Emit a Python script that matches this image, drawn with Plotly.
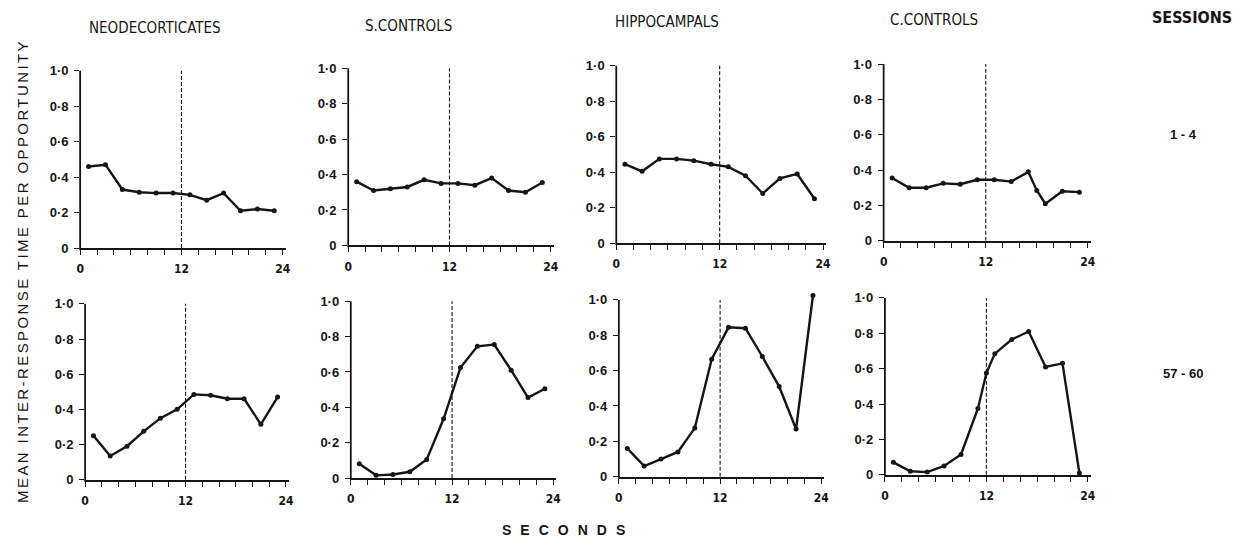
import plotly.graph_objects as go

# ---------------- data ----------------
groups = ["NEODECORTICATES", "S.CONTROLS", "HIPPOCAMPALS", "C.CONTROLS"]
sessions = ["1 - 4", "57 - 60"]

x_ticks = list(range(0, 25, 2))
x_tick_labels = ["0" if v == 0 else "12" if v == 12 else "24" if v == 24 else "" for v in x_ticks]
y_ticks = [0, 0.2, 0.4, 0.6, 0.8, 1.0]
y_tick_labels = ["0", "0·2", "0·4", "0·6", "0·8", "1·0"]

x_std = [1, 3, 5, 7, 9, 11, 13, 15, 17, 19, 21, 23]

# Sessions 1-4
neo_1_4 = [0.46, 0.47, 0.33, 0.315, 0.31, 0.31, 0.30, 0.27, 0.31, 0.21, 0.22, 0.21]
sctrl_1_4 = [0.36, 0.31, 0.32, 0.33, 0.37, 0.35, 0.35, 0.34, 0.38, 0.31, 0.30, 0.355]
hippo_1_4 = [0.445, 0.405, 0.475, 0.475, 0.465, 0.445, 0.43, 0.38, 0.28, 0.365, 0.39, 0.25]
cctrl_1_4_x = [1, 3, 5, 7, 9, 11, 13, 15, 17, 18, 19, 21, 23]
cctrl_1_4 = [0.355, 0.30, 0.30, 0.325, 0.32, 0.345, 0.345, 0.335, 0.39, 0.285, 0.21, 0.28, 0.275]

# Sessions 57-60
neo_57_60 = [0.25, 0.135, 0.19, 0.275, 0.35, 0.40, 0.485, 0.48, 0.46, 0.46, 0.315, 0.47]
sctrl_57_60 = [0.08, 0.015, 0.02, 0.035, 0.105, 0.335, 0.625, 0.745, 0.755, 0.61, 0.455, 0.505]
hippo_57_60 = [0.16, 0.06, 0.10, 0.14, 0.275, 0.665, 0.845, 0.84, 0.68, 0.51, 0.27, 1.025]
cctrl_57_60_x = [1, 3, 5, 7, 9, 11, 12, 13, 15, 17, 19, 21, 23]
cctrl_57_60 = [0.07, 0.02, 0.015, 0.05, 0.115, 0.375, 0.575, 0.685, 0.765, 0.81, 0.61, 0.63, 0.01]

series = [
    (x_std, neo_1_4), (x_std, sctrl_1_4), (x_std, hippo_1_4), (cctrl_1_4_x, cctrl_1_4),
    (x_std, neo_57_60), (x_std, sctrl_57_60), (x_std, hippo_57_60), (cctrl_57_60_x, cctrl_57_60),
]

# ---------------- layout geometry (pixels) ----------------
W, H = 1252, 554
X_MAX = 24.35
Y_MAX = 1.05
# (pixel of x=0, pixel of x=24, pixel of y=0, pixel of y=1.0)
panels_px = [
    (76.7, 280.7, 251.7, 71.7),
    (346.7, 550.7, 249.0, 69.3),
    (616.7, 825.0, 246.7, 66.7),
    (886.0, 1091.7, 244.3, 65.0),
    (81.7, 284.0, 486.7, 308.3),
    (349.3, 553.3, 485.0, 305.7),
    (619.3, 823.3, 483.7, 304.3),
    (887.3, 1091.7, 481.7, 302.3),
]

INK = "#151515"
FONT = "Liberation Sans"
COND = "DejaVu Sans Condensed, DejaVu Sans, sans-serif"

fig = go.Figure()
layout = dict(
    width=W, height=H, margin=dict(l=0, r=0, t=0, b=0),
    paper_bgcolor="white", plot_bgcolor="white", showlegend=False,
    font=dict(family=FONT, color=INK),
)
shapes = []
annotations = []

for i, ((xs, ys), (x0p, x24p, y0p, y1p)) in enumerate(zip(series, panels_px), start=1):
    sx = (x24p - x0p) / 24.0
    sy = (y0p - y1p) / 1.0
    xd = [x0p / W, (x0p + X_MAX * sx) / W]
    yd = [1 - y0p / H, 1 - (y0p - Y_MAX * sy) / H]
    suffix = "" if i == 1 else str(i)
    layout["xaxis" + suffix] = dict(
        domain=xd, range=[0, X_MAX], anchor="y" + suffix,
        tickmode="array", tickvals=x_ticks, ticktext=["<b>%s</b>" % t if t else "" for t in x_tick_labels],
        ticks="outside", ticklen=5, tickwidth=1.4, tickcolor=INK,
        showline=True, linewidth=1.8, linecolor=INK,
        showgrid=False, zeroline=False, fixedrange=True,
        tickfont=dict(family=COND, size=12, color=INK), ticklabelstandoff=4,
    )
    layout["yaxis" + suffix] = dict(
        domain=yd, range=[0, Y_MAX], anchor="x" + suffix,
        tickmode="array", tickvals=y_ticks, ticktext=["<b>%s</b>" % t for t in y_tick_labels],
        ticks="outside", ticklen=5, tickwidth=1.4, tickcolor=INK,
        showline=False, showgrid=False, zeroline=False, fixedrange=True,
        tickfont=dict(family=FONT, size=13, color=INK), ticklabelstandoff=3,
    )
    # y axis line from 0 to 1.0 (paper coordinates)
    shapes.append(dict(type="line", xref="paper", yref="paper",
                       x0=x0p / W, x1=x0p / W, y0=1 - (y0p + 2) / H, y1=1 - y1p / H,
                       line=dict(color=INK, width=1.8)))
    # dashed reference line at 12 s
    shapes.append(dict(type="line", xref="x" + suffix, yref="y" + suffix,
                       x0=12, x1=12, y0=0, y1=1.0,
                       line=dict(color=INK, width=1.1, dash="4px,2px")))
    fig.add_trace(go.Scatter(
        x=xs, y=ys, xaxis="x" + suffix, yaxis="y" + suffix,
        mode="lines+markers", cliponaxis=False,
        line=dict(color=INK, width=2.4), marker=dict(color=INK, size=5),
        hoverinfo="skip",
    ))

# column titles
title_pos = [(152, 28), (407, 26), (668, 22), (937, 20)]
for name, (tx, ty) in zip(groups, title_pos):
    annotations.append(dict(text=name, x=tx / W, y=1 - ty / H, xref="paper", yref="paper",
                            showarrow=False, xanchor="center", yanchor="middle",
                            font=dict(family=COND, size=15, color=INK)))
annotations.append(dict(text="<b>SESSIONS</b>", x=1197 / W, y=1 - 18 / H, xref="paper", yref="paper",
                        showarrow=False, xanchor="center", yanchor="middle",
                        font=dict(family=COND, size=16, color=INK)))
for s, sy_ in zip(sessions, [136, 379]):
    annotations.append(dict(text="<b>%s</b>" % s, x=1188 / W, y=1 - sy_ / H, xref="paper", yref="paper",
                            showarrow=False, xanchor="center", yanchor="middle",
                            font=dict(family=FONT, size=13, color=INK)))
# y-axis title
annotations.append(dict(
    text='<span style="letter-spacing:2.4px">MEAN INTER-RESPONSE TIME PER OPPORTUNITY</span>',
    x=18 / W, y=1 - 275 / H, xref="paper", yref="paper", textangle=-90,
    showarrow=False, xanchor="center", yanchor="middle",
    font=dict(family=FONT, size=15, color=INK)))
# x-axis title
annotations.append(dict(
    text='<b><span style="letter-spacing:9px">SECONDS</span></b>',
    x=568 / W, y=1 - 538 / H, xref="paper", yref="paper",
    showarrow=False, xanchor="center", yanchor="middle",
    font=dict(family=FONT, size=14, color=INK)))

layout["shapes"] = shapes
layout["annotations"] = annotations
fig.update_layout(**layout)
fig.write_html("out.html")
